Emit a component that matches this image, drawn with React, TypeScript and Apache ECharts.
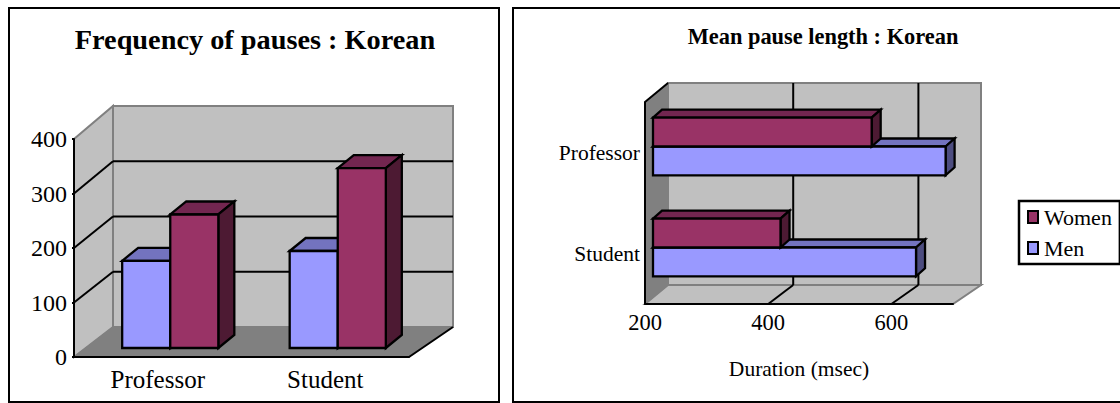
import React, { useEffect, useRef } from "react";
import * as echarts from "echarts";

const categories = ["Professor", "Student"];
const freqMen = [160, 178];
const freqWomen = [245, 330];
const freqGrid = [100, 200, 300];
const freqMax = 400;
const durMen = [675, 627];
const durWomen = [555, 407];
const durGrid = [400, 600];

const FONT = '"Liberation Serif", "Times New Roman", serif';
const MEN = { front: "#9999FF", top: "#7373BF", side: "#4D4D80" };
const WOMEN = { front: "#993366", top: "#732650", side: "#4D1A33" };

const poly = (points: number[][], fill: string | null, stroke = "#000", lineWidth = 2) => ({
  type: "polygon",
  shape: { points },
  style: { fill: fill ?? "none", stroke, lineWidth },
});
const line = (a: number[], b: number[], stroke = "#000", lineWidth = 2) => ({
  type: "line",
  shape: { x1: a[0], y1: a[1], x2: b[0], y2: b[1] },
  style: { stroke, lineWidth },
});

const box = (x0: number, y0: number, x1: number, y1: number, dx: number, dy: number, c: typeof MEN) => ({
  type: "group",
  children: [
    poly([[x0, y0], [x0 + dx, y0 + dy], [x1 + dx, y0 + dy], [x1, y0]], c.top, "#000", 2.3),
    poly([[x1, y0], [x1 + dx, y0 + dy], [x1 + dx, y1 + dy], [x1, y1]], c.side, "#000", 2.3),
    poly([[x0, y0], [x1, y0], [x1, y1], [x0, y1]], c.front, "#000", 2.3),
  ],
});

// Maps a point of the front plane to the back wall (slight perspective growth).
const backOf = (cs: any, d: { dxL: number; dxR: number; dyT: number; dyB: number }) => (px: number, py: number) => {
  const fx = (px - cs.x) / cs.width;
  const fy = (py - cs.y) / cs.height;
  return [px + d.dxL + (d.dxR - d.dxL) * fx, py + d.dyT + (d.dyB - d.dyT) * fy];
};

// ---- left chart: vertical 3-D columns ----
const L = { dxL: 39, dxR: 44, dyT: -33, dyB: -30, barDx: 12.5, barDy: -9, widthRatio: 0.287 };
const leftWalls = (params: any) => {
  const cs = params.coordSys;
  const { x, y, width: w, height: h } = cs;
  const b = backOf(cs, L);
  return {
    type: "group",
    children: [
      poly([[x, y], b(x, y), b(x, y + h), [x, y + h]], "#C0C0C0", "#808080", 2),
      poly([b(x, y), b(x + w, y), b(x + w, y + h), b(x, y + h)], "#C0C0C0", "#808080", 2),
      poly([[x, y + h], b(x, y + h), b(x + w, y + h), [x + w, y + h]], "#808080", "#808080", 1),
      line([x + w, y + h], b(x + w, y + h)),
    ],
  };
};
const leftGrid = (params: any, api: any) => {
  const cs = params.coordSys;
  const b = backOf(cs, L);
  const py = api.coord([0, api.value(0)])[1];
  return {
    type: "group",
    children: [line([cs.x, py], b(cs.x, py)), line(b(cs.x, py), b(cs.x + cs.width, py))],
  };
};
const leftBar = (side: number, c: typeof MEN) => (_p: any, api: any) => {
  const [cx, py] = api.coord([api.value(0), api.value(1)]);
  const [, base] = api.coord([api.value(0), 0]);
  const bw = api.size([1, 0])[0] * L.widthRatio;
  const x0 = cx + L.barDx + (side < 0 ? -bw : 0);
  return box(x0, py + L.barDy, x0 + bw, base + L.barDy, 16, -13, c);
};

// ---- right chart: horizontal 3-D bars ----
const R = { dxL: 23, dxR: 28, dyT: -19, dyB: -19, barDx: 8, barDy: -6, widthRatio: 0.285 };
const rightWalls = (params: any) => {
  const cs = params.coordSys;
  const { x, y, width: w, height: h } = cs;
  const b = backOf(cs, R);
  return {
    type: "group",
    children: [
      poly([b(x, y), b(x + w, y), b(x + w, y + h), b(x, y + h)], "#C0C0C0", "#808080", 2),
      poly([[x, y + h], b(x, y + h), b(x + w, y + h), [x + w, y + h]], "#C0C0C0", "#808080", 2),
      poly([[x, y], b(x, y), b(x, y + h), [x, y + h]], "#808080", "#808080", 1),
      line([x, y], b(x, y)),
    ],
  };
};
const rightGrid = (params: any, api: any) => {
  const cs = params.coordSys;
  const b = backOf(cs, R);
  const px = api.coord([api.value(0), 0])[0];
  const bottom = cs.y + cs.height;
  return {
    type: "group",
    children: [line([px, bottom], b(px, bottom)), line(b(px, bottom), b(px, cs.y))],
  };
};
const rightBar = (side: number, c: typeof MEN) => (_p: any, api: any) => {
  const [px, cy] = api.coord([api.value(1), api.value(0)]);
  const [base] = api.coord([200, api.value(0)]);
  const bh = api.size([0, 1])[1] * R.widthRatio;
  const y0 = cy + R.barDy + (side < 0 ? -bh : 0);
  return box(base + R.barDx, y0, px + R.barDx, y0 + bh, 9, -8, c);
};

const custom = (name: string | undefined, idx: number, data: any[], renderItem: any, color: string, encode: any, z: number) => ({
  type: "custom",
  name,
  xAxisIndex: idx,
  yAxisIndex: idx,
  data,
  renderItem,
  encode,
  z,
  silent: true,
  clip: false,
  itemStyle: { color, borderColor: "#000", borderWidth: 2 },
});

export default function App() {
  const ref = useRef<HTMLDivElement>(null);
  useEffect(() => {
    const chart = echarts.init(ref.current!, undefined, { renderer: "svg" });
    const lv = { x: 0, y: 1 };
    const rv = { x: 1, y: 0 };
    chart.setOption({
      animation: false,
      backgroundColor: "#fff",
      title: [
        { text: "Frequency of pauses : Korean", left: 250, top: 20, textAlign: "center", textStyle: { fontFamily: FONT, fontSize: 28.3, fontWeight: "bold", color: "#000" } },
        { text: "Mean pause length : Korean", left: 818, top: 20, textAlign: "center", textStyle: { fontFamily: FONT, fontSize: 22.4, fontWeight: "bold", color: "#000" } },
      ],
      graphic: [
        { type: "rect", z: -1, shape: { x: 9, y: 8, width: 490, height: 394 }, style: { fill: "#fff", stroke: "#000", lineWidth: 2 } },
        { type: "rect", z: -1, shape: { x: 513, y: 8, width: 620, height: 394 }, style: { fill: "#fff", stroke: "#000", lineWidth: 2 } },
      ],
      legend: {
        data: ["Women", "Men"],
        orient: "vertical",
        left: 1019,
        top: 201,
        padding: [5, 8, 5, 8],
        itemGap: 9,
        itemWidth: 10,
        itemHeight: 12,
        backgroundColor: "#fff",
        borderColor: "#000",
        borderWidth: 2.5,
        borderRadius: 0,
        icon: "rect",
        selectedMode: false,
        textStyle: { fontFamily: FONT, fontSize: 22, color: "#000", padding: [0, 0, 0, 1] },
      },
      grid: [
        { left: 74, top: 139, width: 335, height: 218 },
        { left: 645, top: 102, width: 308, height: 202 },
      ],
      xAxis: [
        {
          gridIndex: 0, type: "category", data: categories, z: 10,
          axisLine: { lineStyle: { color: "#000", width: 2 } },
          axisTick: { inside: true, length: 3, lineStyle: { color: "#000", width: 2 } },
          axisLabel: { fontFamily: FONT, fontSize: 25, color: "#000", margin: 10 },
        },
        {
          gridIndex: 1, type: "value", min: 200, max: 700, interval: 200, z: 10,
          splitLine: { show: false },
          axisLine: { show: true, lineStyle: { color: "#000", width: 2 } },
          axisTick: { show: false },
          axisLabel: { fontFamily: FONT, fontSize: 22.5, color: "#000", margin: 7, showMaxLabel: false },
          name: "Duration (msec)", nameLocation: "middle", nameGap: 54,
          nameTextStyle: { fontFamily: FONT, fontSize: 21.5, color: "#000" },
        },
      ],
      yAxis: [
        {
          gridIndex: 0, type: "value", min: 0, max: freqMax, interval: 100, z: 10,
          splitLine: { show: false },
          axisLine: { show: true, lineStyle: { color: "#000", width: 2 } },
          axisTick: { show: true, length: 2, lineStyle: { color: "#000", width: 2 } },
          axisLabel: { fontFamily: FONT, fontSize: 24, color: "#000", margin: 7 },
        },
        {
          gridIndex: 1, type: "category", data: categories, inverse: true, z: 10,
          axisLine: { lineStyle: { color: "#000", width: 2 } },
          axisTick: { inside: true, length: 3, lineStyle: { color: "#000", width: 2 } },
          axisLabel: { fontFamily: FONT, fontSize: 21.5, color: "#000", margin: 5, padding: [0, 0, 4, 0] },
        },
      ],
      series: [
        custom(undefined, 0, [[0]], leftWalls, "#C0C0C0", { y: 0 }, 1),
        custom(undefined, 0, freqGrid.map((v) => [v]), leftGrid, "#000", { y: 0 }, 2),
        custom("Men", 0, categories.map((c, i) => [c, freqMen[i]]), leftBar(-1, MEN), MEN.front, lv, 3),
        custom("Women", 0, categories.map((c, i) => [c, freqWomen[i]]), leftBar(1, WOMEN), WOMEN.front, lv, 4),
        custom(undefined, 1, [[200]], rightWalls, "#C0C0C0", { x: 0 }, 1),
        custom(undefined, 1, durGrid.map((v) => [v]), rightGrid, "#000", { x: 0 }, 2),
        custom("Men", 1, categories.map((c, i) => [c, durMen[i]]), rightBar(1, MEN), MEN.front, rv, 3),
        custom("Women", 1, categories.map((c, i) => [c, durWomen[i]]), rightBar(-1, WOMEN), WOMEN.front, rv, 4),
      ],
    });
    return () => chart.dispose();
  }, []);
  return <div ref={ref} style={{ position: "absolute", left: 0, top: 0, width: 1120, height: 403 }} />;
}
